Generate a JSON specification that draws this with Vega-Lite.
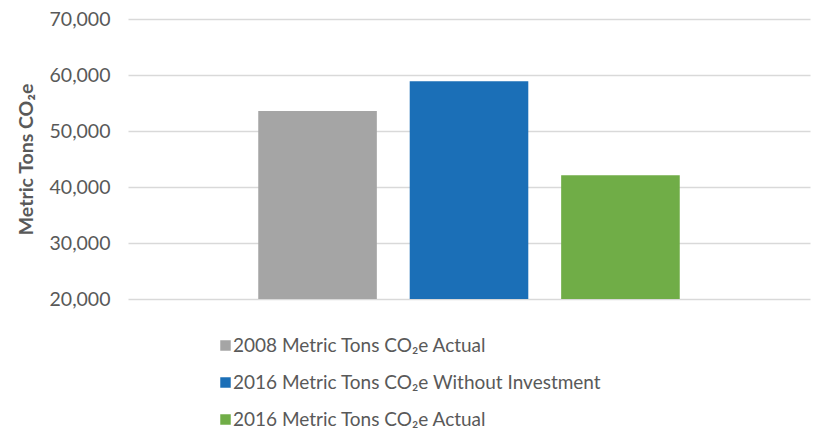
{
  "$schema": "https://vega.github.io/schema/vega-lite/v6.json",
  "autosize": "none",
  "width": 682,
  "height": 280,
  "padding": {"left": 128, "top": 19, "right": 4, "bottom": 132},
  "background": "white",
  "config": {
    "font": "Lato",
    "view": {"stroke": null}
  },
  "data": {
    "values": [
      {"series": "2008 Metric Tons CO₂e Actual", "value": 53550},
      {"series": "2016 Metric Tons CO₂e Without Investment", "value": 58900},
      {"series": "2016 Metric Tons CO₂e Actual", "value": 42100}
    ]
  },
  "mark": {"type": "bar"},
  "encoding": {
    "x": {
      "field": "series",
      "type": "nominal",
      "sort": null,
      "scale": {"paddingInner": 0.217, "paddingOuter": 0.86},
      "axis": null
    },
    "y": {
      "field": "value",
      "type": "quantitative",
      "scale": {"domain": [20000, 70000], "nice": false, "zero": false},
      "axis": {
        "values": [20000, 30000, 40000, 50000, 60000, 70000],
        "format": ",d",
        "title": "Metric Tons CO₂e",
        "titleFont": "Lato",
        "titleFontSize": 19.5,
        "titleFontWeight": "bold",
        "titleColor": "#595959",
        "titlePadding": 13,
        "labelFont": "Lato",
        "labelFontSize": 19.5,
        "labelColor": "#595959",
        "labelPadding": 18,
        "ticks": false,
        "domain": false,
        "grid": true,
        "gridColor": "#d9d9d9",
        "gridWidth": 1.5
      }
    },
    "y2": {"datum": 20000},
    "color": {
      "field": "series",
      "type": "nominal",
      "scale": {
        "domain": ["2008 Metric Tons CO₂e Actual", "2016 Metric Tons CO₂e Without Investment", "2016 Metric Tons CO₂e Actual"],
        "range": ["#a5a5a5", "#1b6fb7", "#70ad47"]
      },
      "legend": {
        "title": null,
        "orient": "none",
        "legendX": 88,
        "legendY": 317,
        "direction": "vertical",
        "symbolType": "square",
        "symbolSize": 110,
        "symbolStrokeWidth": 0,
        "labelFont": "Lato",
        "labelFontSize": 19,
        "labelColor": "#595959",
        "labelOffset": -2,
        "labelLimit": 500,
        "rowPadding": 17
      }
    }
  }
}
